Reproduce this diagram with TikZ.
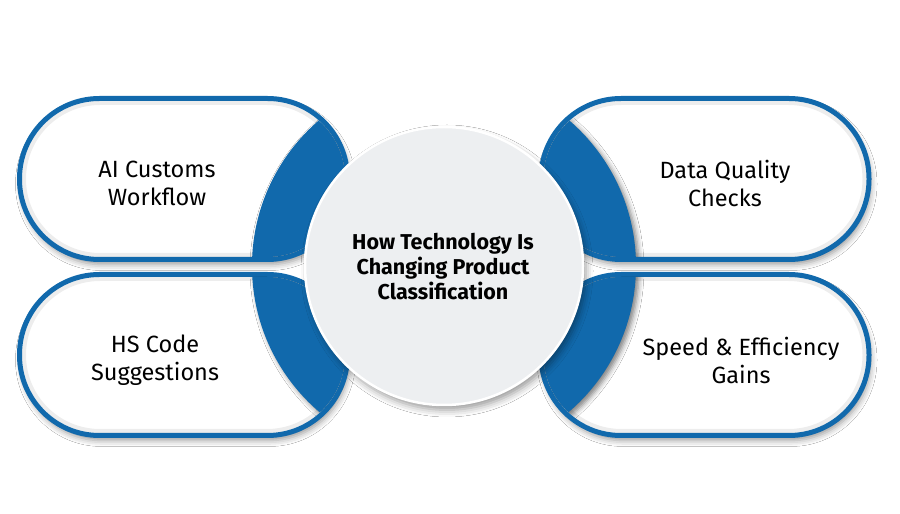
\documentclass[tikz,border=0pt]{standalone}
\usepackage{fontspec}
\setmainfont{Fira Sans}
\usetikzlibrary{positioning,shadows.blur}
\definecolor{pillblue}{HTML}{1169AC}
\definecolor{hubgrey}{HTML}{EDEFF1}

\begin{document}
\begin{tikzpicture}[x=1pt,y=1pt,
  pill/.style={draw=pillblue,line width=5pt,fill=white,rounded corners=80pt,
    minimum width=328pt,minimum height=161pt,inner sep=0pt,outer sep=0pt,
    blur shadow={shadow xshift=2pt,shadow yshift=-5pt,shadow blur radius=6pt,shadow opacity=40}},
  inset/.style={draw=black,opacity=0.07,line width=8pt,rounded corners=78pt},
  crescent/.style={fill=pillblue,
    blur shadow={shadow xshift=3pt,shadow yshift=-3pt,shadow blur radius=5pt,shadow opacity=50}},
  hub/.style={circle,minimum size=278pt,inner sep=0pt,fill=hubgrey,draw=white,line width=2.5pt,
    blur shadow={shadow xshift=3pt,shadow yshift=-5pt,shadow blur radius=7pt,shadow opacity=40}},
  pilltext/.style={font=\fontsize{23.5}{28}\selectfont,align=center},
  hubtext/.style={font=\bfseries\fontsize{21.5}{25}\selectfont,align=center}]
\useasboundingbox[fill=white] (0,0) rectangle (900,514);

\coordinate (c) at (444,248);

% the four pills
\node[pill] (tl) at (183.5,335) {};
\node[pill] (bl) at (183.5,159) {};
\node[pill] (tr) at (705,335) {};
\node[pill] (br) at (705,159) {};

% blue ends next to the hub
\begin{scope}
\clip[rounded corners=78pt] ([shift={(2.5,2.5)}]tl.south west) rectangle ([shift={(-2.5,-2.5)}]tl.north east);
\draw[inset] ([shift={(2.5,2.5)}]tl.south west) rectangle ([shift={(-2.5,-2.5)}]tl.north east);
\fill[crescent] (c) circle (192pt);
\end{scope}
\begin{scope}
\clip[rounded corners=78pt] ([shift={(2.5,2.5)}]bl.south west) rectangle ([shift={(-2.5,-2.5)}]bl.north east);
\draw[inset] ([shift={(2.5,2.5)}]bl.south west) rectangle ([shift={(-2.5,-2.5)}]bl.north east);
\fill[crescent] (c) circle (192pt);
\end{scope}
\begin{scope}
\clip[rounded corners=78pt] ([shift={(2.5,2.5)}]tr.south west) rectangle ([shift={(-2.5,-2.5)}]tr.north east);
\draw[inset] ([shift={(2.5,2.5)}]tr.south west) rectangle ([shift={(-2.5,-2.5)}]tr.north east);
\fill[crescent] (c) circle (192pt);
\end{scope}
\begin{scope}
\clip[rounded corners=78pt] ([shift={(2.5,2.5)}]br.south west) rectangle ([shift={(-2.5,-2.5)}]br.north east);
\draw[inset] ([shift={(2.5,2.5)}]br.south west) rectangle ([shift={(-2.5,-2.5)}]br.north east);
\fill[crescent] (c) circle (192pt);
\end{scope}

% hub
\node[hub] (hub) at (c) {};
\node[hubtext] (title) at (443,247) {How Technology Is\\Changing Product\\Classification};

% labels
\node[pilltext] (tltext) at (157,331) {AI Customs\\Workflow};
\node[pilltext] (bltext) at (155,154) {HS Code\\Suggestions};
\node[pilltext] (trtext) at (725,331) {Data Quality\\Checks};
\node[pilltext] (brtext) at (741,154) {Speed \& Efficiency\\Gains};
\end{tikzpicture}
\end{document}
